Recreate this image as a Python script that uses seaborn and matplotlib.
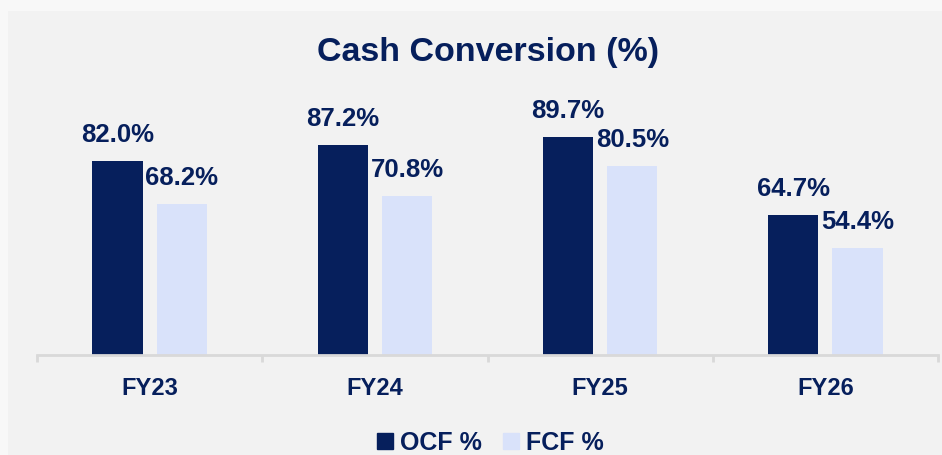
import pandas as pd
import seaborn as sns
import matplotlib.pyplot as plt
from matplotlib.patches import Rectangle
from matplotlib.lines import Line2D

years = ["FY23", "FY24", "FY25", "FY26"]
ocf = [82.0, 87.2, 89.7, 64.7]
fcf = [68.2, 70.8, 80.5, 54.4]
series = ["OCF %", "FCF %"]

navy = "#061f5c"
light = "#d9e2fa"
bg = "#f2f2f2"

df = pd.DataFrame({
    "year": years * 2,
    "value": ocf + fcf,
    "series": [series[0]] * 4 + [series[1]] * 4,
})

sns.set_style("white")
plt.rcParams["font.family"] = ["Liberation Sans", "DejaVu Sans"]

fig = plt.figure(figsize = (9.42, 4.55), dpi = 100, facecolor = "#f8f8f8")
fig.patches.append(Rectangle((8 / 942, 0), 1, 1 - 11 / 455, transform = fig.transFigure,
                             facecolor = bg, edgecolor = "none", zorder = -5))
ax = fig.add_axes([37 / 942, 1 - 355 / 455, 901 / 942, 250 / 455])
ax.set_facecolor("none")
ax.set_zorder(2)

sns.barplot(data = df, x = "year", y = "value", hue = "series", order = years,
            palette = [navy, light], width = 0.57, gap = 0.22, ax = ax, legend = False,
            saturation = 1, linewidth = 0, edgecolor = "none")

for cont in ax.containers:
    ax.bar_label(cont, fmt = "%.1f%%", padding = 10, color = navy,
                 fontsize = 18.5, fontweight = "bold")

ax.set_ylim(20, 100)
ax.set_xlim(-0.5, 3.5)
ax.set_xlabel("")
ax.set_ylabel("")
ax.set_yticks([])
for s in ["top", "right", "left"]:
    ax.spines[s].set_visible(False)
ax.spines["bottom"].set_color("#d9d9d9")
ax.spines["bottom"].set_linewidth(2)
ax.set_xticks([-0.5, 0.5, 1.5, 2.5, 3.5], minor = True)
ax.tick_params(axis = "x", which = "minor", bottom = True, length = 5, width = 2,
               color = "#d9d9d9", direction = "out")
ax.tick_params(axis = "x", which = "major", length = 0, pad = 16, labelsize = 17, labelcolor = navy)
for lbl in ax.get_xticklabels():
    lbl.set_fontweight("bold")

fig.text(0.518, 1 - 53 / 455, "Cash Conversion (%)", ha = "center", va = "center",
         fontsize = 24.5, fontweight = "bold", color = navy)

handles = [Line2D([], [], marker = "s", linestyle = "none", markersize = 11, color = c) for c in [navy, light]]
leg = fig.legend(handles, series, loc = "center", bbox_to_anchor = (0.52, 1 - 443 / 455), ncol = 2,
                 frameon = False, handletextpad = 0.25, columnspacing = 0.8, handlelength = 0.7,
                 prop = {"weight": "bold", "size": 18})
for t in leg.get_texts():
    t.set_color(navy)

fig.savefig("out.png", dpi = 100, facecolor = fig.get_facecolor())
